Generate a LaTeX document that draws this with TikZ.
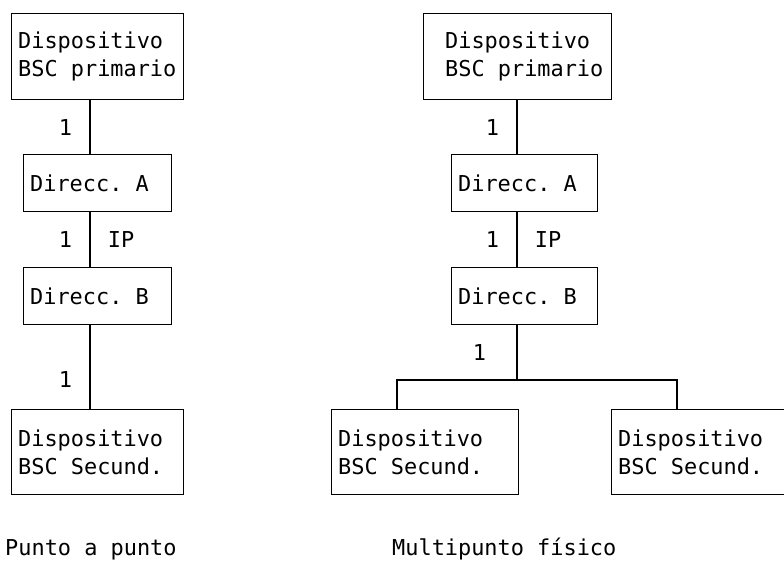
\documentclass[tikz,border=0pt]{standalone}
\usepackage{fontspec}
\setmonofont{DejaVu Sans Mono}

\begin{document}
\begin{tikzpicture}[x=1pt, y=-1pt,
    font=\ttfamily\fontsize{21.9pt}{28pt}\selectfont,
    caja/.style={draw, line width=1.3pt, anchor=north west, align=flush left, inner xsep=6.5pt, inner ysep=0pt},
    linea/.style={line width=1.3pt},
    etiq/.style={inner sep=0pt, anchor=base west}
]
    \useasboundingbox (0,0) rectangle (784,563);

    % Punto a punto
    \node[caja, text width=159pt, minimum height=86pt] (lpri) at (11,13) {Dispositivo\\BSC primario};
    \node[caja, text width=135pt, minimum height=57pt] (ldirA) at (23,154) {Direcc. A};
    \node[caja, text width=135pt, minimum height=57pt] (ldirB) at (23,267) {Direcc. B};
    \node[caja, text width=159pt, minimum height=85pt] (lsec) at (11,409) {Dispositivo\\BSC Secund.};
    \coordinate (lx) at (90,0);

    % Multipunto fisico
    \node[caja, text width=175pt, minimum height=86pt] (rpri) at (423,13) {\hspace*{15pt}Dispositivo\\\hspace*{15pt}BSC primario};
    \node[caja, text width=133pt, minimum height=57pt] (rdirA) at (451,154) {Direcc. A};
    \node[caja, text width=133pt, minimum height=57pt] (rdirB) at (451,267) {Direcc. B};
    \node[caja, text width=174pt, minimum height=85pt] (rsecA) at (331,409) {Dispositivo\\BSC Secund.};
    \node[caja, text width=163pt, minimum height=85pt] (rsecB) at (611,409) {Dispositivo\\BSC Secund.};
    \coordinate (rx) at (517,0);
    \coordinate (rama) at (517,380);
    \coordinate (ra) at (397,0);
    \coordinate (rb) at (677,0);

    % Lineas
    \draw[linea] (lpri.south -| lx) -- (ldirA.north -| lx) node[midway, left=14pt] (l1) {1};
    \draw[linea] (ldirA.south -| lx) -- (ldirB.north -| lx) node[midway, left=14pt] (l2) {1} node[midway, right=14pt] (lip) {IP};
    \draw[linea] (ldirB.south -| lx) -- (lsec.north -| lx) node[pos=0.65, left=14pt] (l3) {1};

    \draw[linea] (rpri.south -| rx) -- (rdirA.north -| rx) node[midway, left=14pt] (r1) {1};
    \draw[linea] (rdirA.south -| rx) -- (rdirB.north -| rx) node[midway, left=14pt] (r2) {1} node[midway, right=14pt] (rip) {IP};
    \draw[linea] (rdirB.south -| rx) -- (rama) node[midway, left=27pt] (r3) {1};
    \draw[linea] (rsecA.north -| ra) |- (rama) -| (rsecB.north -| rb);

    % Titulos
    \node[etiq] (tpp) at (5,555) {Punto a punto};
    \node[etiq] (tmp) at (392,555) {Multipunto físico};
\end{tikzpicture}
\end{document}
